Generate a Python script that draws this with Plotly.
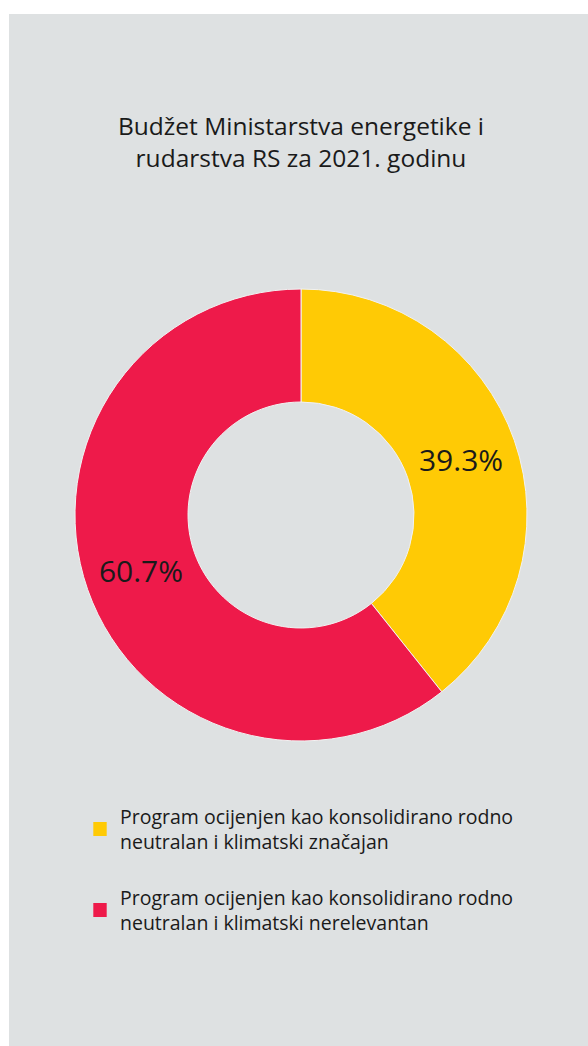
import plotly.graph_objects as go

# ---- data ----
labels = [
    "Program ocijenjen kao konsolidirano rodno<br>neutralan i klimatski značajan",
    "Program ocijenjen kao konsolidirano rodno<br>neutralan i klimatski nerelevantan",
]
values = [39.3, 60.7]
colors = ["#FFCA05", "#EE1A4A"]
title_text = "Budžet Ministarstva energetike i<br>rudarstva RS za 2021. godinu"

W, H = 588, 1046
FONT = "Open Sans"
TXT = "#1a1a1a"


def py(y):  # pixel from top -> paper fraction from bottom
    return 1 - y / H


def px(x):
    return x / W


cx, cy, R = 301, 515, 226

fig = go.Figure()
fig.add_trace(go.Pie(
    labels=labels,
    values=values,
    hole=0.5,
    sort=False,
    direction="clockwise",
    rotation=0,
    marker=dict(colors=colors, line=dict(color="#f2f2f2", width=1)),
    texttemplate="%{value:.1f}%",
    textposition="inside",
    insidetextorientation="horizontal",
    textfont=dict(family=FONT, size=30, color=TXT),
    domain=dict(x=[px(cx - R), px(cx + R)], y=[py(cy + R), py(cy - R)]),
    showlegend=False,
    hoverinfo="label+percent",
))

shapes = [dict(type="rect", xref="paper", yref="paper",
               x0=px(9), x1=1, y0=0, y1=py(14),
               fillcolor="#DEE1E2", line=dict(width=0), layer="below")]

annotations = [dict(text=title_text, x=px(301), y=py(141), xref="paper", yref="paper",
                    xanchor="center", yanchor="middle", showarrow=False,
                    font=dict(family=FONT, size=24.5, color=TXT), align="center")]

# manual legend
leg_y0, leg_step = 829, 81
for i, (lab, col) in enumerate(zip(labels, colors)):
    yc = leg_y0 + i * leg_step
    shapes.append(dict(type="rect", xref="paper", yref="paper",
                       x0=px(93.3), x1=px(106.7), y0=py(yc + 7), y1=py(yc - 7),
                       fillcolor=col, line=dict(width=0)))
    annotations.append(dict(text=lab, x=px(118), y=py(yc), xref="paper", yref="paper",
                            xanchor="left", yanchor="middle", showarrow=False, align="left",
                            font=dict(family=FONT, size=19.5, color=TXT)))

fig.update_layout(
    width=W, height=H,
    margin=dict(l=0, r=0, t=0, b=0),
    paper_bgcolor="white",
    plot_bgcolor="white",
    shapes=shapes,
    annotations=annotations,
)

fig.write_html("out.html",
               config={"displayModeBar": False},
               post_script="document.body.style.margin='0';document.body.style.overflow='hidden';")
